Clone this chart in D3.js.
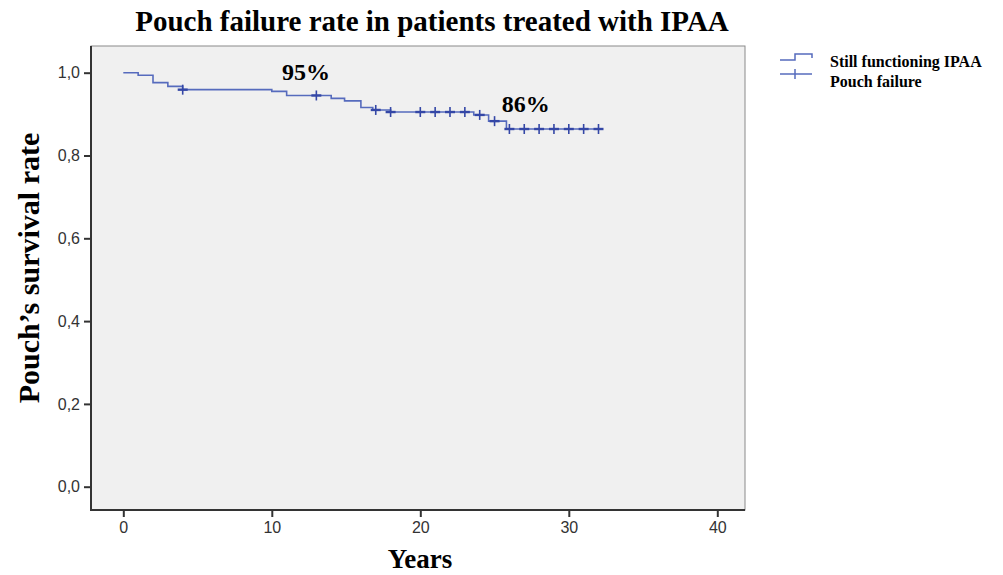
<!DOCTYPE html>
<html>
<head>
<meta charset="utf-8">
<script src="https://cdn.jsdelivr.net/npm/d3@7"></script>
<style>
	body { margin: 0; background: #fff; }
	svg { display: block; }
	.tick text { font-family: "Liberation Sans", Arial, sans-serif; font-size: 16px; fill: #333; }
	.serif { font-family: "Liberation Serif", "Times New Roman", serif; font-weight: bold; fill: #000; }
</style>
</head>
<body>
<script>

// step curve: event times (years) and survival after each event
var stepTimes = [0, 1, 2, 3, 4, 10, 11, 14, 14.9, 16, 16.8, 18, 23.6, 24.6, 25.8];
var stepSurv = [1.0, 0.994, 0.976, 0.967, 0.959, 0.955, 0.945, 0.938, 0.932, 0.916, 0.910, 0.905, 0.898, 0.883, 0.864];
var lastFollowUp = 32.2;

// censored cases (still functioning IPAA)
var censorTimes = [4, 13, 17, 18, 20, 21, 22, 23, 24, 25, 26, 27, 28, 29, 30, 31, 32];

var xTicks = [0, 10, 20, 30, 40];
var yTicks = [0, 0.2, 0.4, 0.6, 0.8, 1.0];

// annotation anchors in data units (years, survival)
var notes = [{t: 12.3, s: 0.982, label: '95%'}, {t: 27.1, s: 0.906, label: '86%'}];
var legendItems = ['Still functioning IPAA', 'Pouch failure'];

var width = 1003, height = 575;
var box = {x0: 91, x1: 745, y0: 46, y1: 510};
var lineColor = '#566bbd';
var markColor = '#3447a6';

var svg = d3.select('body').append('svg')
	.attr('width', width)
	.attr('height', height);

var g = svg.append('g');

var x = d3.scaleLinear().domain([0, 40]).range([123.3, 717.3]);
var y = d3.scaleLinear().domain([0, 1]).range([486.7, 72.7]);

function survAt(t) {
	var s = stepSurv[0];
	for (var i = 0; i < stepTimes.length; i++) {
		if (stepTimes[i] <= t) s = stepSurv[i];
	}
	return s;
}

// plot background
g.append('rect')
	.attr('x', box.x0)
	.attr('y', box.y0)
	.attr('width', box.x1 - box.x0)
	.attr('height', box.y1 - box.y0)
	.style('fill', '#f0f0f0')
	.attr('stroke', '#8a8a8a')
	.attr('stroke-width', 1);

// axes
var xAxis = g.append('g')
	.attr('transform', 'translate(0,' + box.y1 + ')')
	.call(d3.axisBottom(x).tickValues(xTicks).tickSize(7).tickPadding(5).tickFormat(d3.format('d')));

var yAxis = g.append('g')
	.attr('transform', 'translate(' + box.x0 + ',0)')
	.call(d3.axisLeft(y).tickValues(yTicks).tickSize(7).tickPadding(4)
		.tickFormat(function(d) { return d.toFixed(1).replace('.', ','); }));

xAxis.select('.domain').remove();
yAxis.select('.domain').remove();
xAxis.selectAll('.tick line').attr('stroke', '#333').attr('stroke-width', 2);
yAxis.selectAll('.tick line').attr('stroke', '#333').attr('stroke-width', 2);

g.append('line')
	.attr('x1', box.x0)
	.attr('y1', box.y0)
	.attr('x2', box.x0)
	.attr('y2', box.y1 + 1)
	.attr('stroke', '#333')
	.attr('stroke-width', 2);

g.append('line')
	.attr('x1', box.x0)
	.attr('y1', box.y1)
	.attr('x2', box.x1)
	.attr('y2', box.y1)
	.attr('stroke', '#333')
	.attr('stroke-width', 2);

// survival curve
var pts = stepTimes.map(function(t, i) { return [t, stepSurv[i]]; });
pts.push([lastFollowUp, stepSurv[stepSurv.length - 1]]);

var line = d3.line()
	.x(function(d) { return x(d[0]); })
	.y(function(d) { return y(d[1]); })
	.curve(d3.curveStepAfter);

g.append('path')
	.datum(pts)
	.attr('d', line)
	.style('fill', 'none')
	.attr('stroke', lineColor)
	.attr('stroke-width', 1.6);

// censor marks
var marks = g.selectAll('.censor')
	.data(censorTimes)
	.enter().append('g')
	.attr('class', 'censor')
	.attr('transform', function(d) { return 'translate(' + x(d) + ',' + y(survAt(d)) + ')'; });

marks.append('line')
	.attr('x1', 0).attr('y1', -5)
	.attr('x2', 0).attr('y2', 5)
	.attr('stroke', markColor)
	.attr('stroke-width', 1.6);

marks.append('line')
	.attr('x1', -5).attr('y1', 0)
	.attr('x2', 5).attr('y2', 0)
	.attr('stroke', markColor)
	.attr('stroke-width', 2.4);

// annotations
g.selectAll('.note')
	.data(notes)
	.enter().append('text')
	.attr('class', 'serif')
	.attr('x', function(d) { return x(d.t); })
	.attr('y', function(d) { return y(d.s); })
	.attr('text-anchor', 'middle')
	.style('font-size', '24px')
	.text(function(d) { return d.label; });

// titles
g.append('text')
	.attr('class', 'serif')
	.attr('x', 432)
	.attr('y', 31)
	.attr('text-anchor', 'middle')
	.style('font-size', '29px')
	.text('Pouch failure rate in patients treated with IPAA');

g.append('text')
	.attr('class', 'serif')
	.attr('x', 420)
	.attr('y', 568)
	.attr('text-anchor', 'middle')
	.style('font-size', '27px')
	.text('Years');

g.append('text')
	.attr('class', 'serif')
	.attr('transform', 'translate(39,268) rotate(-90)')
	.attr('text-anchor', 'middle')
	.style('font-size', '30px')
	.text('Pouch\u2019s survival  rate');

// legend
var lx = 780, ly = 60;

g.append('path')
	.attr('d', 'M' + lx + ',' + ly + 'H' + (lx + 15) + 'V' + (ly - 6) + 'H' + (lx + 32) + 'V' + (ly - 2))
	.style('fill', 'none')
	.attr('stroke', lineColor)
	.attr('stroke-width', 1.5);

g.append('line')
	.attr('x1', lx).attr('y1', ly + 14)
	.attr('x2', lx + 32).attr('y2', ly + 14)
	.attr('stroke', lineColor)
	.attr('stroke-width', 1.5);

g.append('line')
	.attr('x1', lx + 15).attr('y1', ly + 9)
	.attr('x2', lx + 15).attr('y2', ly + 19)
	.attr('stroke', lineColor)
	.attr('stroke-width', 1.5);

g.selectAll('.legend')
	.data(legendItems)
	.enter().append('text')
	.attr('class', 'serif')
	.attr('x', 830)
	.attr('y', function(d, i) { return 67 + i * 20; })
	.style('font-size', '16px')
	.text(function(d) { return d; });

</script>
</body>
</html>
